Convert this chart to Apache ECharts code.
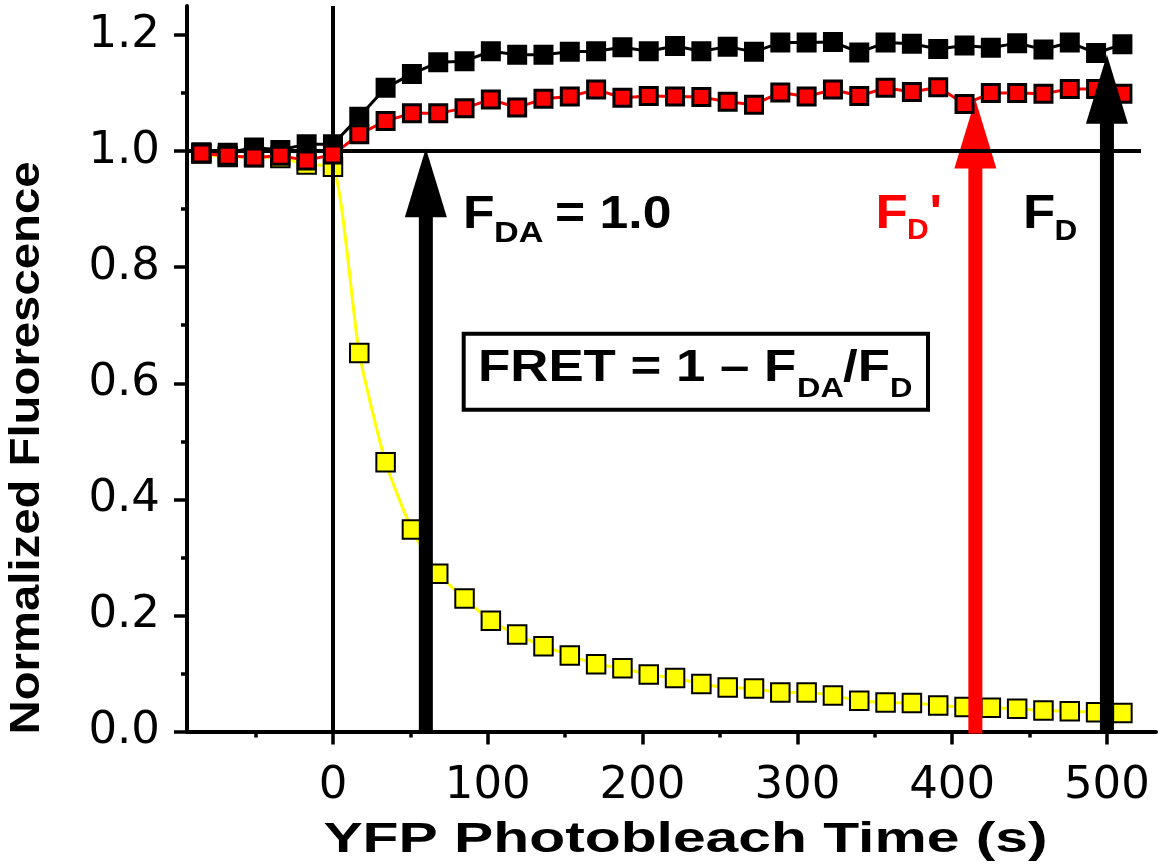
<!DOCTYPE html>
<html>
<head>
<meta charset="utf-8">
<script src="https://cdn.jsdelivr.net/npm/echarts@6/dist/echarts.min.js"></script>
<style>html,body{margin:0;padding:0;background:#fff}#c{width:1166px;height:865px}</style>
</head>
<body>
<div id="c"></div>
<script>
// ---- data ----
const times = [-85,-68,-51,-34,-17,0,17,34,51,68,85,102,119,136,153,170,187,204,221,238,255,272,289,306,323,340,357,374,391,408,425,442,459,476,493,510];
const fdValues = [0.998,0.997,1.006,1.002,1.012,1.012,1.059,1.109,1.133,1.153,1.155,1.172,1.166,1.166,1.171,1.172,1.179,1.172,1.181,1.172,1.180,1.171,1.187,1.187,1.188,1.170,1.187,1.185,1.176,1.182,1.178,1.186,1.175,1.187,1.169,1.184];
const fdPrimeValues = [0.996,0.992,0.989,0.992,0.984,0.994,1.029,1.052,1.065,1.065,1.074,1.089,1.075,1.090,1.094,1.106,1.092,1.095,1.094,1.093,1.085,1.080,1.101,1.094,1.106,1.095,1.109,1.102,1.110,1.081,1.100,1.100,1.099,1.107,1.107,1.099];
const yfpValues = [0.996,0.990,0.990,0.988,0.977,0.973,0.652,0.464,0.348,0.272,0.229,0.191,0.167,0.147,0.131,0.116,0.109,0.098,0.092,0.082,0.076,0.074,0.067,0.067,0.062,0.053,0.050,0.049,0.045,0.042,0.041,0.039,0.036,0.035,0.033,0.032];
const xTickValues = [0,100,200,300,400,500];
const xMinorTickValues = [-50,50,150,250,350,450];
const yTickValues = [0,0.2,0.4,0.6,0.8,1.0,1.2];
const yMinorTickValues = [0.1,0.3,0.5,0.7,0.9,1.1];
const xMin = -94.3, xMax = 531.7, yMin = 0, yMax = 1.25;
const refLevel = 1.0, refLineStart = -94.3, refLineEnd = 522, zeroTime = 0;
const arrowTimes = [60, 415, 500];
const arrowTips = [1.005, 1.089, 1.166];
const arrowColors = ['#000000', '#ff0000', '#000000'];

// ---- build ----
const pairs = v => times.map((t, i) => [t, v[i]]);
const arrowData = arrowTimes.map((t, i) => [t, arrowTips[i], arrowColors[i]]);

function renderArrow(params, api) {
  const x = api.value(0), tip = api.value(1);
  const color = api.value(2);
  const pT = api.coord([x, tip]);
  const pB = api.coord([x, 0]);
  const headH = 69, headW = 42, shaftW = 14;
  return {
    type: 'group',
    children: [
      { type: 'rect', shape: { x: pT[0] - shaftW / 2, y: pT[1] + headH - 1, width: shaftW, height: pB[1] + 2 - (pT[1] + headH - 1) }, style: { fill: color } },
      { type: 'polygon', shape: { points: [[pT[0], pT[1]], [pT[0] - headW / 2, pT[1] + headH], [pT[0] + headW / 2, pT[1] + headH]] }, style: { fill: color } }
    ]
  };
}

const tickStyle = { color: '#000', width: 3.5 };
const font = 'Liberation Sans';
function txt(text, x, y, size, scaleX, color, extra) {
  return Object.assign({
    type: 'text', x: x, y: y, scaleX: scaleX, z: 100,
    style: { text: text, fill: color, font: 'bold ' + size + 'px "' + font + '"',
      align: 'left', textAlign: 'left', verticalAlign: 'middle', textVerticalAlign: 'middle' }
  }, extra || {});
}

const chart = echarts.init(document.getElementById('c'));
chart.setOption({
  animation: false,
  backgroundColor: '#ffffff',
  grid: { left: 187, right: 10, top: 6, bottom: 133.5, containLabel: false },
  xAxis: [
    { type: 'value', min: xMin, max: xMax, position: 'bottom',
      axisLine: { show: true, onZero: false, lineStyle: { color: '#000', width: 4 } },
      axisTick: { show: true, inside: false, length: 13, lineStyle: tickStyle, customValues: xTickValues },
      axisLabel: { show: true, customValues: xTickValues, margin: 32, color: '#000', fontFamily: 'DejaVu Sans', fontSize: 45 },
      splitLine: { show: false }, minorTick: { show: false } },
    { type: 'value', min: xMin, max: xMax, position: 'bottom',
      axisLine: { show: false, onZero: false },
      axisTick: { show: true, inside: false, length: 6, lineStyle: tickStyle, customValues: xMinorTickValues },
      axisLabel: { show: false }, splitLine: { show: false } }
  ],
  yAxis: [
    { type: 'value', min: yMin, max: yMax, position: 'left',
      axisLine: { show: true, onZero: false, lineStyle: { color: '#000', width: 4 } },
      axisTick: { show: true, inside: false, length: 13, lineStyle: tickStyle, customValues: yTickValues },
      axisLabel: { show: true, customValues: yTickValues, margin: 27, color: '#000', fontFamily: 'DejaVu Sans', fontSize: 45,
        formatter: v => Number(v).toFixed(1) },
      splitLine: { show: false }, minorTick: { show: false } },
    { type: 'value', min: yMin, max: yMax, position: 'left',
      axisLine: { show: false, onZero: false },
      axisTick: { show: true, inside: false, length: 6, lineStyle: tickStyle, customValues: yMinorTickValues },
      axisLabel: { show: false }, splitLine: { show: false } }
  ],
  series: [
    { type: 'line', name: 'ref', data: [], z: 1, silent: true,
      markLine: { silent: true, symbol: 'none', label: { show: false },
        lineStyle: { color: '#000', width: 4, type: 'solid' },
        emphasis: { disabled: true },
        data: [
          [{ coord: [refLineStart, refLevel] }, { coord: [refLineEnd, refLevel] }],
          [{ coord: [zeroTime, yMin] }, { coord: [zeroTime, yMax] }]
        ] } },
    { type: 'line', name: 'YFP', data: pairs(yfpValues), z: 2, smooth: 0.2,
      symbol: 'rect', symbolSize: 18.5, showAllSymbol: true,
      lineStyle: { color: '#ffff00', width: 3 },
      itemStyle: { color: '#ffff00', borderColor: '#000', borderWidth: 2 } },
    { type: 'custom', name: 'arrowRed', z: 3, renderItem: renderArrow,
      data: arrowData.filter(d => d[2] === '#ff0000'), encode: { x: 0, y: 1 } },
    { type: 'line', name: 'FD', data: pairs(fdValues), z: 4,
      symbol: 'rect', symbolSize: 18, showAllSymbol: true,
      lineStyle: { color: '#000', width: 3 },
      itemStyle: { color: '#000', borderColor: '#000', borderWidth: 2 } },
    { type: 'line', name: "FD'", data: pairs(fdPrimeValues), z: 5,
      symbol: 'rect', symbolSize: 17, showAllSymbol: true,
      lineStyle: { color: '#ff0000', width: 3 },
      itemStyle: { color: '#ff0000', borderColor: '#000', borderWidth: 3 } },
    { type: 'custom', name: 'arrowBlack', z: 6, renderItem: renderArrow,
      data: arrowData.filter(d => d[2] !== '#ff0000'), encode: { x: 0, y: 1 } }
  ],
  graphic: { elements: [
    { type: 'rect', z: 90, shape: { x: 463.7, y: 333.7, width: 464.3, height: 76 },
      style: { fill: '#ffffff', stroke: '#000', lineWidth: 4 } },
    txt('FRET = 1 \u2013 F', 478, 369, 44, 1.2, '#000'),
    txt('DA', 797, 390, 27, 1.2, '#000'),
    txt('/F', 843, 369, 44, 1.2, '#000'),
    txt('D', 890, 390, 27, 1.15, '#000'),
    txt('F', 463, 215, 47, 1.1, '#000'),
    txt('DA', 494, 233.5, 29, 1.18, '#000'),
    txt('= 1.0', 555, 215, 47, 1.1, '#000'),
    txt('F', 875.5, 214.5, 48, 1.1, '#ff0000'),
    txt('D', 907, 231, 30, 1.0, '#ff0000'),
    txt('\'', 929.5, 214.5, 48, 1.1, '#ff0000'),
    txt('F', 1023, 214.5, 48, 1.1, '#000'),
    txt('D', 1054.5, 231.5, 30, 1.05, '#000'),
    { type: 'text', x: 685.5, y: 840, scaleX: 1.4, z: 100,
      style: { text: 'YFP Photobleach Time (s)', fill: '#000', font: 'bold 42px "' + font + '"',
        align: 'center', textAlign: 'center', verticalAlign: 'middle', textVerticalAlign: 'middle' } },
    { type: 'text', x: 27, y: 448, rotation: Math.PI / 2, scaleX: 1.1, z: 100,
      style: { text: 'Normalized Fluorescence', fill: '#000', font: 'bold 43px "' + font + '"',
        align: 'center', textAlign: 'center', verticalAlign: 'middle', textVerticalAlign: 'middle' } }
  ] }
});
</script>
</body>
</html>
